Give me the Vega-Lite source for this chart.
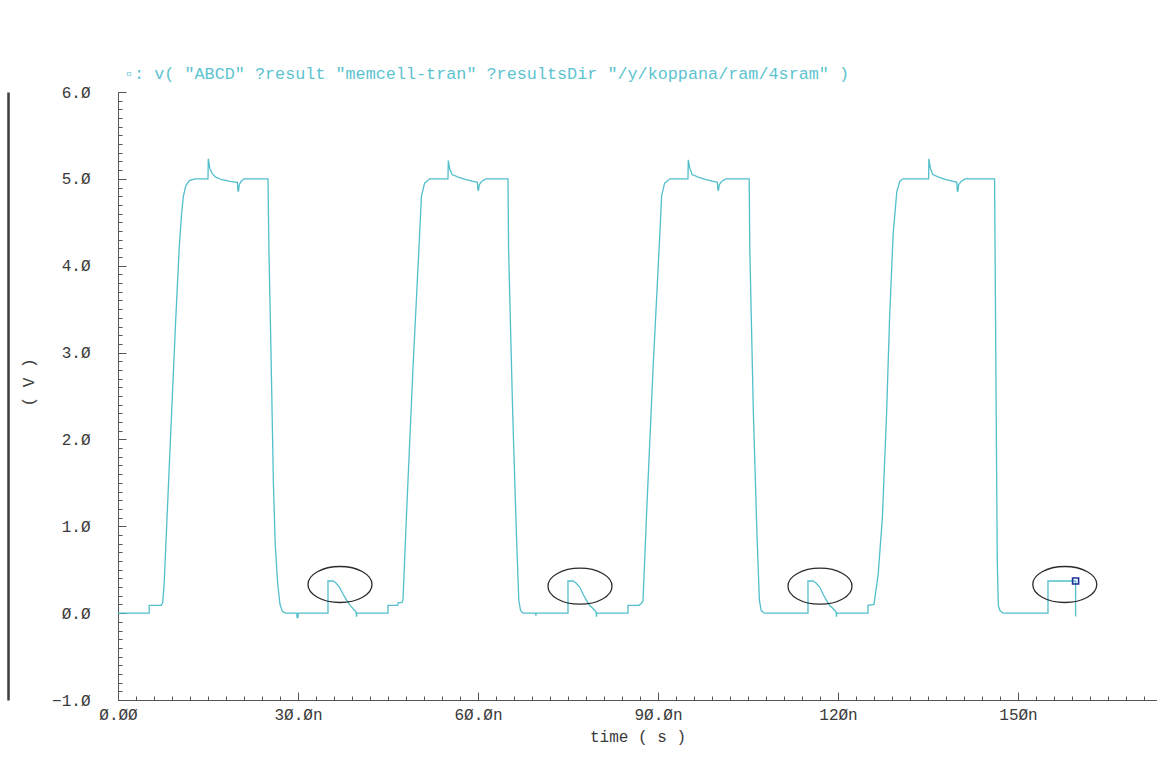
{
  "$schema": "https://vega.github.io/schema/vega-lite/v6.json",
  "width": 1039,
  "height": 608,
  "autosize": {"type": "none"},
  "padding": {"left": 118, "top": 92, "right": 0, "bottom": 74},
  "background": "white",
  "config": {"view": {"stroke": null}, "font": "Liberation Mono"},
  "title": {
    "text": "▫: v( \"ABCD\" ?result \"memcell-tran\" ?resultsDir \"/y/koppana/ram/4sram\" )",
    "anchor": "start", "frame": "group", "offset": 1, "dx": 6,
    "font": "Liberation Mono", "fontSize": 16.8, "fontWeight": "normal", "color": "#5cc3cf"
  },
  "datasets": {
    "signal": [
      {"t":0,"v":0},{"t":5.2,"v":0},{"t":5.2,"v":0.09},{"t":7.2,"v":0.09},{"t":7.45,"v":0.12},{"t":7.7,"v":0.35},{"t":8.3,"v":1.3},{"t":8.9,"v":2.25},{"t":9.6,"v":3.35},{"t":10.2,"v":4.2},{"t":10.6,"v":4.6},{"t":10.9,"v":4.8},{"t":11.3,"v":4.92},{"t":11.9,"v":4.98},{"t":12.8,"v":5.0},
      {"t":15.0,"v":5.0},{"t":15.05,"v":5.23},{"t":15.3,"v":5.12},{"t":15.7,"v":5.06},{"t":16.3,"v":5.02},{"t":17.3,"v":4.99},{"t":18.7,"v":4.97},{"t":19.9,"v":4.96},{"t":20.0,"v":4.86},{"t":20.1,"v":4.86},{"t":20.2,"v":4.93},{"t":20.5,"v":4.97},{"t":21.0,"v":5.0},
      {"t":25.0,"v":5.0},{"t":25.15,"v":4.2},{"t":25.5,"v":3.0},{"t":25.9,"v":1.5},{"t":26.2,"v":0.8},{"t":26.6,"v":0.35},{"t":27.0,"v":0.1},{"t":27.4,"v":0.02},{"t":27.9,"v":0.0},
      {"t":29.8,"v":0.0},{"t":29.85,"v":-0.05},{"t":30.0,"v":-0.05},{"t":30.05,"v":0.0},
      {"t":35.0,"v":0.0},{"t":35.0,"v":0.37},{"t":35.8,"v":0.37},{"t":36.3,"v":0.35},{"t":36.9,"v":0.3},{"t":37.5,"v":0.22},{"t":38.1,"v":0.15},{"t":38.7,"v":0.09},{"t":39.2,"v":0.05},{"t":39.7,"v":0.01},{"t":39.75,"v":-0.04},{"t":39.8,"v":0.0},
      {"t":45.0,"v":0.0},{"t":45.0,"v":0.09},{"t":46.6,"v":0.09},{"t":46.7,"v":0.12},{"t":47.3,"v":0.12},{"t":47.5,"v":0.15},
      {"t":48.07,"v":1.11},{"t":49.17,"v":2.83},{"t":50.28,"v":4.37},{"t":50.57,"v":4.8},{"t":51.1,"v":4.95},{"t":51.95,"v":5.0},
      {"t":55.0,"v":5.0},{"t":55.05,"v":5.21},{"t":55.3,"v":5.11},{"t":55.7,"v":5.05},{"t":56.7,"v":5.02},{"t":58.0,"v":4.99},{"t":59.2,"v":4.97},{"t":59.9,"v":4.96},{"t":60.0,"v":4.87},{"t":60.1,"v":4.87},{"t":60.2,"v":4.93},{"t":60.6,"v":4.97},{"t":61.3,"v":5.0},
      {"t":65.0,"v":5.0},{"t":65.1,"v":4.18},{"t":65.8,"v":2.26},{"t":66.4,"v":0.92},{"t":66.8,"v":0.15},{"t":67.1,"v":0.03},{"t":67.5,"v":0.0},
      {"t":69.6,"v":0.0},{"t":69.65,"v":-0.03},{"t":69.7,"v":0.0},
      {"t":75.0,"v":0.0},{"t":75.0,"v":0.37},{"t":75.8,"v":0.37},{"t":76.3,"v":0.35},{"t":76.95,"v":0.3},{"t":77.5,"v":0.22},{"t":78.07,"v":0.15},{"t":78.6,"v":0.09},{"t":79.2,"v":0.05},{"t":79.7,"v":0.01},{"t":79.75,"v":-0.04},{"t":79.8,"v":0.0},
      {"t":85.0,"v":0.0},{"t":85.0,"v":0.09},{"t":86.8,"v":0.09},{"t":87.2,"v":0.11},{"t":87.5,"v":0.14},
      {"t":88.1,"v":1.15},{"t":89.2,"v":2.85},{"t":90.3,"v":4.35},{"t":90.6,"v":4.8},{"t":91.1,"v":4.95},{"t":92.0,"v":5.0},
      {"t":95.0,"v":5.0},{"t":95.05,"v":5.22},{"t":95.3,"v":5.12},{"t":95.7,"v":5.05},{"t":96.7,"v":5.02},{"t":98.0,"v":4.99},{"t":99.2,"v":4.97},{"t":99.9,"v":4.96},{"t":100.0,"v":4.87},{"t":100.1,"v":4.87},{"t":100.2,"v":4.93},{"t":100.6,"v":4.97},{"t":101.3,"v":5.0},
      {"t":105.2,"v":5.0},{"t":105.3,"v":4.2},{"t":105.9,"v":2.3},{"t":106.5,"v":0.9},{"t":106.9,"v":0.15},{"t":107.2,"v":0.03},{"t":107.7,"v":0.0},
      {"t":115.0,"v":0.0},{"t":115.0,"v":0.37},{"t":115.8,"v":0.37},{"t":116.3,"v":0.35},{"t":116.95,"v":0.3},{"t":117.5,"v":0.22},{"t":118.07,"v":0.15},{"t":118.6,"v":0.09},{"t":119.2,"v":0.05},{"t":119.7,"v":0.01},{"t":119.75,"v":-0.04},{"t":119.8,"v":0.0},
      {"t":125.0,"v":0.0},{"t":125.0,"v":0.09},{"t":126.0,"v":0.1},
      {"t":126.7,"v":0.45},{"t":127.4,"v":1.1},{"t":128.1,"v":2.3},{"t":128.6,"v":3.4},{"t":129.2,"v":4.37},{"t":129.8,"v":4.85},{"t":130.3,"v":4.97},{"t":130.8,"v":5.0},
      {"t":135.1,"v":5.0},{"t":135.15,"v":5.23},{"t":135.4,"v":5.12},{"t":135.8,"v":5.05},{"t":136.8,"v":5.02},{"t":138.0,"v":4.99},{"t":139.2,"v":4.97},{"t":139.8,"v":4.96},{"t":139.9,"v":4.86},{"t":140.0,"v":4.86},{"t":140.1,"v":4.93},{"t":140.5,"v":4.97},{"t":141.2,"v":5.0},
      {"t":146.1,"v":5.0},{"t":146.2,"v":4.0},{"t":146.4,"v":2.0},{"t":146.55,"v":0.6},{"t":146.7,"v":0.15},{"t":146.75,"v":0.08},{"t":147.0,"v":0.03},{"t":147.5,"v":0.0},
      {"t":155.0,"v":0.0},{"t":155.0,"v":0.37},{"t":159.6,"v":0.37},{"t":159.6,"v":-0.04}
    ],
    "circles": [
      {"t":37.0,"v":0.33},{"t":77.0,"v":0.31},{"t":117.0,"v":0.31},{"t":157.8,"v":0.33}
    ],
    "marker": [
      {"t":159.6,"v":0.37}
    ]
  },
  "layer": [
    {
      "data": {"name": "signal"},
      "mark": {"type": "line", "color": "#52bfcb", "strokeWidth": 1.3},
      "encoding": {
        "x": {
          "field": "t", "type": "quantitative",
          "scale": {"domain": [0, 173.17], "nice": false, "zero": false},
          "axis": {
            "orient": "bottom",
            "values": [0, 30, 60, 90, 120, 150],
            "tickSize": -8, "tickColor": "#555555", "domainColor": "#555555",
            "labelPadding": 14,
            "labelExpr": "datum.value == 0 ? 'Ø.ØØ' : (datum.value < 100 ? replace(replace(format(datum.value, '.1f'), '0', 'Ø'), '0', 'Ø') + 'n' : replace(format(datum.value, 'd'), '0', 'Ø') + 'n')",
            "labelFont": "Liberation Mono", "labelFontSize": 16, "labelColor": "#3a3a3a",
            "labelFlush": false, "labelOverlap": false, "grid": false,
            "title": "time ( s )", "titleFont": "Liberation Mono", "titleFontSize": 16,
            "titleFontWeight": "normal", "titleColor": "#3a3a3a",
            "titleY": 36, "titleBaseline": "middle"
          }
        },
        "y": {
          "field": "v", "type": "quantitative",
          "scale": {"domain": [-1, 6], "nice": false, "zero": false},
          "axis": {
            "orient": "left",
            "values": [-1, 0, 1, 2, 3, 4, 5, 6],
            "tickSize": -8, "tickColor": "#555555", "domainColor": "#555555",
            "labelPadding": 36,
            "labelExpr": "replace(replace(replace(format(datum.value, '.1f'), '0', 'Ø'), '0', 'Ø'), '-', '−')",
            "labelFont": "Liberation Mono", "labelFontSize": 16, "labelColor": "#3a3a3a",
            "labelFlush": false, "labelOverlap": false, "grid": false,
            "title": "( V )", "titleFont": "Liberation Mono", "titleFontSize": 16,
            "titleFontWeight": "normal", "titleColor": "#3a3a3a",
            "titleX": -90, "titleY": 290, "titleBaseline": "middle", "titleAlign": "center"
          }
        },
        "order": {"value": null}
      }
    },
    {
      "data": {"name": "circles"},
      "mark": {"type": "point", "shape": "M-1,0A1,0.5625,0,1,1,1,0A1,0.5625,0,1,1,-1,0Z", "size": 4096, "filled": false, "stroke": "#2b2b2b", "strokeWidth": 1.3, "opacity": 1},
      "encoding": {
        "x": {
          "field": "t", "type": "quantitative",
          "scale": {"domain": [0, 173.17], "nice": false, "zero": false},
          "axis": {
            "orient": "bottom",
            "values": [0,3,6,9,12,15,18,21,24,27,30,33,36,39,42,45,48,51,54,57,60,63,66,69,72,75,78,81,84,87,90,93,96,99,102,105,108,111,114,117,120,123,126,129,132,135,138,141,144,147,150,153,156,159,162,165,168,171],
            "tickSize": -4, "tickColor": "#555555", "labels": false, "domain": false, "grid": false, "title": null
          }
        },
        "y": {
          "field": "v", "type": "quantitative",
          "scale": {"domain": [-1, 6], "nice": false, "zero": false},
          "axis": {
            "orient": "left",
            "values": [-1,-0.9,-0.8,-0.7,-0.6,-0.5,-0.4,-0.3,-0.2,-0.1,0,0.1,0.2,0.3,0.4,0.5,0.6,0.7,0.8,0.9,1,1.1,1.2,1.3,1.4,1.5,1.6,1.7,1.8,1.9,2,2.1,2.2,2.3,2.4,2.5,2.6,2.7,2.8,2.9,3,3.1,3.2,3.3,3.4,3.5,3.6,3.7,3.8,3.9,4,4.1,4.2,4.3,4.4,4.5,4.6,4.7,4.8,4.9,5,5.1,5.2,5.3,5.4,5.5,5.6,5.7,5.8,5.9,6],
            "tickSize": -4, "tickColor": "#555555", "labels": false, "domain": false, "grid": false, "title": null
          }
        }
      }
    },
    {
      "data": {"name": "marker"},
      "mark": {"type": "point", "shape": "square", "size": 36, "filled": false, "stroke": "#1f2f99", "strokeWidth": 1.6, "opacity": 1},
      "encoding": {
        "x": {
          "field": "t", "type": "quantitative",
          "scale": {"domain": [0, 173.17], "nice": false, "zero": false},
          "axis": null
        },
        "y": {
          "field": "v", "type": "quantitative",
          "scale": {"domain": [-1, 6], "nice": false, "zero": false},
          "axis": {
            "orient": "left", "offset": 110,
            "domainColor": "#3d3d3d", "domainWidth": 2.5,
            "ticks": false, "labels": false, "grid": false, "title": null
          }
        }
      }
    }
  ],
  "resolve": {"axis": {"x": "independent", "y": "independent"}}
}
